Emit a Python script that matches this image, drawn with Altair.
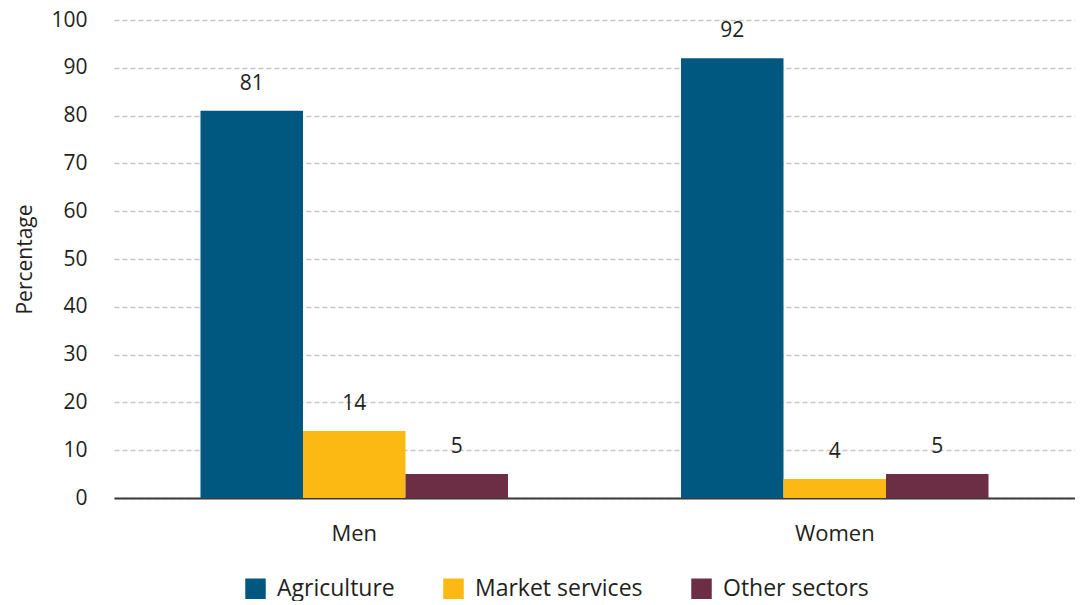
import altair as alt
import pandas as pd

groups = ["Men", "Women"]
sectors = ["Agriculture", "Market services", "Other sectors"]
men_values = [81, 14, 5]
women_values = [92, 4, 5]
colors = ["#00577F", "#FDB913", "#6B2E45"]

rows = []
for g, vals in zip(groups, [men_values, women_values]):
    for s, v in zip(sectors, vals):
        rows.append({"group": g, "sector": s, "value": v})
df = pd.DataFrame(rows)

FONT = "Open Sans"
TXT = "#231F20"

base = alt.Chart(df).encode(
    x=alt.X("group:N", sort=groups, title=None,
            scale=alt.Scale(paddingInner=0.36, paddingOuter=0.18),
            axis=alt.Axis(labelAngle=0, labelFontSize=22, labelFont=FONT, labelColor=TXT,
                          labelPadding=25, ticks=False, domain=True, domainColor="#3a3a3a",
                          domainWidth=2, grid=False)),
    xOffset=alt.XOffset("sector:N", sort=sectors,
                        scale=alt.Scale(paddingInner=0, paddingOuter=0)),
)

bars = base.mark_bar(strokeWidth=0).encode(
    y=alt.Y("value:Q", title="Percentage",
            scale=alt.Scale(domain=[0, 100], nice=False),
            axis=alt.Axis(values=list(range(0, 101, 10)), labelFontSize=21, labelFont=FONT,
                          labelColor=TXT, labelPadding=27, ticks=False, domain=False,
                          grid=True, gridColor="#c6c6c6", gridDash=[5, 3], gridWidth=1.3,
                          titleFontSize=21, titleFont=FONT, titleColor=TXT,
                          titleFontWeight="normal", titlePadding=15)),
    color=alt.Color("sector:N", sort=sectors,
                    scale=alt.Scale(domain=sectors, range=colors),
                    legend=alt.Legend(title=None, orient="none", direction="horizontal",
                                      legendX=130, legendY=557, symbolType="square",
                                      symbolSize=420, symbolStrokeWidth=0, labelFontSize=23,
                                      labelFont=FONT, labelColor=TXT, labelOffset=10,
                                      labelLimit=400, columnPadding=47, symbolOpacity=1)),
)

labels = base.mark_text(baseline="bottom", dy=-17, fontSize=21, font=FONT, color=TXT).encode(
    y=alt.Y("value:Q"),
    text=alt.Text("value:Q"),
)

chart = alt.layer(bars, labels).properties(
    width=961, height=478,
    padding={"left": 6, "top": 1, "right": 0, "bottom": 0},
).configure_view(stroke=None)

chart.save("out.html", embed_options={"renderer": "svg", "actions": False})
